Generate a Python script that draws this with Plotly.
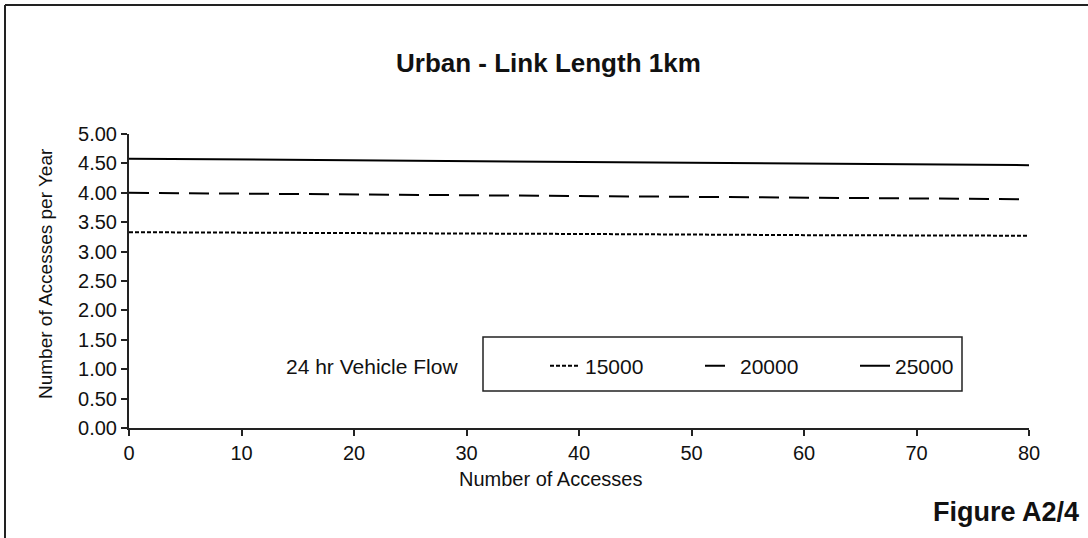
import plotly.graph_objects as go

# ---- data ----
accesses = [0, 20, 40, 60, 80]
flow_15000 = [3.33, 3.32, 3.30, 3.28, 3.27]
flow_20000 = [4.00, 3.97, 3.95, 3.92, 3.89]
flow_25000 = [4.58, 4.55, 4.52, 4.50, 4.47]
series_names = ["15000", "20000", "25000"]
x_ticks = [0, 10, 20, 30, 40, 50, 60, 70, 80]
y_ticks = [0, 0.5, 1, 1.5, 2, 2.5, 3, 3.5, 4, 4.5, 5]

W, H = 1088, 538
L, R, T, B = 129, 1029, 134, 428   # plot area in pixels


def px(xp):
    return (xp - L) / (R - L)


def py(yp):
    return (B - yp) / (B - T)


FONT = "Liberation Sans, Arial, sans-serif"
INK = "#111111"

fig = go.Figure()
styles = [
    dict(dash="4px,2px", width=2),
    dict(dash="20px,10px", width=2),
    dict(dash="solid", width=2),
]
for name, vals, st in zip(series_names, [flow_15000, flow_20000, flow_25000], styles):
    fig.add_trace(go.Scatter(
        x=accesses, y=vals, mode="lines", name=name,
        line=dict(color="black", width=st["width"], dash=st["dash"]),
        hoverinfo="x+y+name",
    ))

axis_common = dict(
    showgrid=False, zeroline=False, showline=True, linecolor="#222222", linewidth=2,
    ticks="outside", ticklen=6, tickwidth=1.5, tickcolor="#222222",
    tickfont=dict(family=FONT, size=20, color=INK),
)
fig.update_xaxes(range=[0, 80], tickvals=x_ticks, ticktext=[str(v) for v in x_ticks],
                 **axis_common)
fig.update_yaxes(range=[0, 5], tickvals=y_ticks, ticktext=[f"{v:.2f}" for v in y_ticks],
                 **axis_common)

shapes = [
    # outer frame (top and left edges)
    dict(type="line", xref="paper", yref="paper", x0=px(5), x1=px(W + 10), y0=py(5), y1=py(5),
         line=dict(color="#222222", width=2)),
    dict(type="line", xref="paper", yref="paper", x0=px(5), x1=px(5), y0=py(5), y1=py(H + 10),
         line=dict(color="#222222", width=2)),
    # legend box
    dict(type="rect", xref="paper", yref="paper", x0=px(483), x1=px(962), y0=py(391), y1=py(337),
         line=dict(color="#222222", width=1.5), fillcolor="rgba(0,0,0,0)"),
]

annotations = [
    dict(text="<b>Urban - Link Length 1km</b>", xref="paper", yref="paper",
         x=px(548), y=py(63), showarrow=False, xanchor="center", yanchor="middle",
         font=dict(family=FONT, size=26, color=INK)),
    dict(text="Number of Accesses per Year", xref="paper", yref="paper",
         x=px(45), y=py(274), showarrow=False, textangle=-90, xanchor="center", yanchor="middle",
         font=dict(family=FONT, size=19, color=INK)),
    dict(text="Number of Accesses", xref="paper", yref="paper",
         x=px(457), y=py(479), showarrow=False, xanchor="left", yanchor="middle",
         font=dict(family=FONT, size=20, color=INK)),
    dict(text="<b>Figure A2/4</b>", xref="paper", yref="paper",
         x=px(1081), y=py(512), showarrow=False, xanchor="right", yanchor="middle",
         font=dict(family=FONT, size=27, color=INK)),
    dict(text="24 hr Vehicle Flow", xref="paper", yref="paper",
         x=px(372), y=py(366), showarrow=False, xanchor="center", yanchor="middle",
         font=dict(family=FONT, size=21, color=INK)),
]

fig.update_layout(
    width=W, height=H,
    margin=dict(l=L, r=W - R, t=T, b=H - B, autoexpand=False),
    paper_bgcolor="white", plot_bgcolor="white",
    showlegend=True,
    legend=dict(
        orientation="h", x=px(545), y=py(366), xanchor="left", yanchor="middle",
        entrywidth=110, entrywidthmode="pixels",
        font=dict(family=FONT, size=21, color=INK),
        bgcolor="rgba(0,0,0,0)", borderwidth=0,
    ),
    shapes=shapes,
    annotations=annotations,
)

fig.write_html("out.html", config={"displayModeBar": False},
               post_script="document.body.style.margin='0px';")
